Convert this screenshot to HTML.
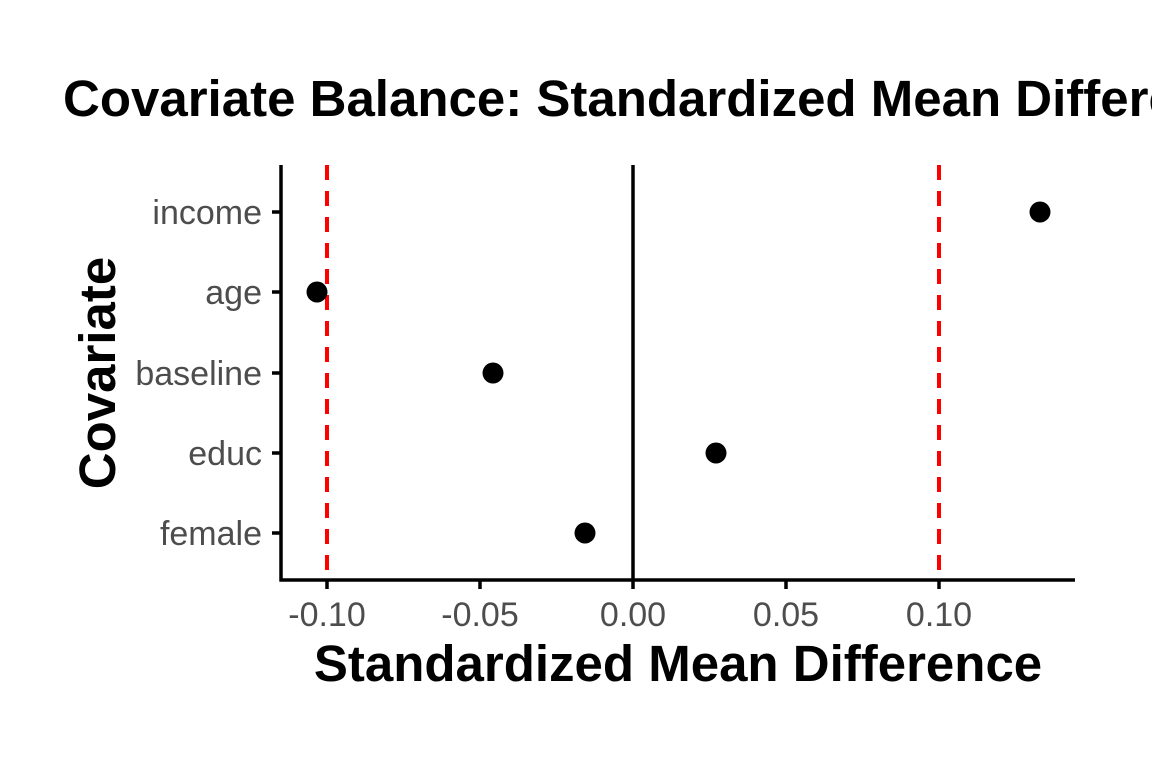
<!DOCTYPE html>
<html><head><meta charset="utf-8"><style>html,body{margin:0;padding:0;background:#fff;overflow:hidden}</style></head>
<body>
<svg width="1152" height="768" xmlns="http://www.w3.org/2000/svg" font-family="Liberation Sans, sans-serif">
<rect width="1152" height="768" fill="#fff"/>
<text x="63" y="116" font-size="51" font-weight="bold" fill="#000">Covariate Balance: Standardized Mean Difference</text>
<line x1="633" y1="165" x2="633" y2="580" stroke="#000" stroke-width="3.5"/>
<line x1="327" y1="165" x2="327" y2="580" stroke="#ff0000" stroke-width="4" stroke-dasharray="15,11"/>
<line x1="939" y1="165" x2="939" y2="580" stroke="#ff0000" stroke-width="4" stroke-dasharray="15,11"/>
<line x1="281" y1="165" x2="281" y2="581.5" stroke="#000" stroke-width="3.5"/>
<line x1="279.5" y1="580" x2="1075" y2="580" stroke="#000" stroke-width="3.5"/>
<g stroke="#000" stroke-width="3.5">
<line x1="272" y1="212" x2="281" y2="212"/><line x1="272" y1="292" x2="281" y2="292"/><line x1="272" y1="373" x2="281" y2="373"/><line x1="272" y1="453" x2="281" y2="453"/><line x1="272" y1="533" x2="281" y2="533"/>
<line x1="327" y1="580" x2="327" y2="589"/><line x1="480" y1="580" x2="480" y2="589"/><line x1="633" y1="580" x2="633" y2="589"/><line x1="786" y1="580" x2="786" y2="589"/><line x1="939" y1="580" x2="939" y2="589"/>
</g>
<g font-size="34" fill="#4d4d4d" text-anchor="end">
<text x="262" y="224">income</text><text x="262" y="304">age</text><text x="262" y="385">baseline</text><text x="262" y="465">educ</text><text x="262" y="545">female</text>
</g>
<g font-size="34" fill="#4d4d4d" text-anchor="middle">
<text x="327" y="626">-0.10</text><text x="480" y="626">-0.05</text><text x="633" y="626">0.00</text><text x="786" y="626">0.05</text><text x="939" y="626">0.10</text>
</g>
<g fill="#000">
<circle cx="1040" cy="212" r="10.5"/><circle cx="317" cy="292" r="10.5"/><circle cx="493" cy="373" r="10.5"/><circle cx="716" cy="453" r="10.5"/><circle cx="585" cy="533" r="10.5"/>
</g>
<text x="678" y="681" font-size="51" font-weight="bold" text-anchor="middle" fill="#000">Standardized Mean Difference</text>
<text transform="translate(115,373) rotate(-90)" font-size="51" font-weight="bold" text-anchor="middle" fill="#000">Covariate</text>
</svg>
</body></html>
